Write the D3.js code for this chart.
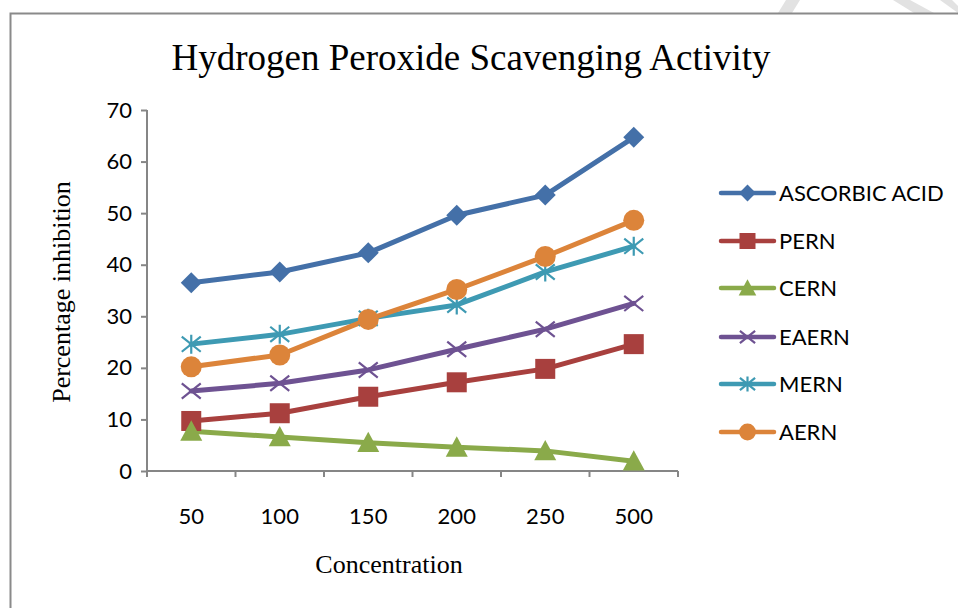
<!DOCTYPE html>
<html>
<head>
<meta charset="utf-8">
<script src="https://cdn.jsdelivr.net/npm/d3@7"></script>
<style>
  html, body { margin: 0; padding: 0; background: #fff; }
  svg { display: block; }
</style>
</head>
<body>
<svg id="chart" width="958" height="608"></svg>
<script>
const categories = ["50", "100", "150", "200", "250", "500"];
const seriesNames = ["ASCORBIC ACID", "PERN", "CERN", "EAERN", "MERN", "AERN"];
const ascorbicAcid = [36.5, 38.6, 42.3, 49.6, 53.5, 64.7];
const pern = [9.7, 11.2, 14.4, 17.2, 19.8, 24.6];
const cern = [7.7, 6.6, 5.5, 4.6, 3.9, 1.9];
const eaern = [15.5, 17.0, 19.6, 23.6, 27.5, 32.5];
const mern = [24.6, 26.5, 29.6, 32.2, 38.6, 43.6];
const aern = [20.2, 22.5, 29.4, 35.2, 41.6, 48.6];
const yTicks = [0, 10, 20, 30, 40, 50, 60, 70];
const title = "Hydrogen Peroxide Scavenging Activity";
const xTitle = "Concentration";
const yTitle = "Percentage inhibition";

const seriesValues = [ascorbicAcid, pern, cern, eaern, mern, aern];
const colors = ["#4470A8", "#A8403E", "#8AAA4A", "#6E5292", "#3E9AB3", "#DC843A"];
const markers = ["diamond", "square", "triangle", "x", "star", "circle"];

const svg = d3.select("#chart");
const serif = "'Liberation Serif', 'Times New Roman', serif";
const sans = "Lato, 'Open Sans', 'Liberation Sans', sans-serif";

// watermark stripes (decorative)
const wm = svg.append("g").attr("fill", "#e2e2e2");
wm.append("polygon").attr("points", "786,0 800,0 792,13 778,13");
wm.append("polygon").attr("points", "893,0 910,0 934,13 914,13");
wm.append("polygon").attr("points", "940,0 952,0 958,6 958,13");

// frame
svg.append("path").attr("d", "M10.5,608 V13.5 H958")
  .attr("fill", "none").attr("stroke", "#8a8a8a").attr("stroke-width", 2);

const x0 = 147, x1 = 678, yTop = 110, yBot = 471;
const x = d3.scaleBand().domain(categories).range([x0, x1]).paddingInner(0).paddingOuter(0);
const y = d3.scaleLinear().domain([0, 70]).range([yBot, yTop]);
const cx = c => x(c) + x.bandwidth() / 2;

// y axis
const yAxis = svg.append("g").attr("transform", `translate(${x0},0)`)
  .call(d3.axisLeft(y).tickValues(yTicks).tickSize(6).tickPadding(9).tickFormat(d3.format("d")));
yAxis.select(".domain").attr("stroke", "#868686").attr("stroke-width", 2).attr("d", `M0,${yTop}V${yBot}`);
yAxis.selectAll(".tick line").attr("stroke", "#868686").attr("stroke-width", 2);
yAxis.selectAll(".tick text").attr("font-family", sans).attr("font-size", 22).attr("fill", "#000");

// x axis
const xAxis = svg.append("g").attr("transform", `translate(0,${yBot})`);
xAxis.append("line").attr("x1", x0).attr("x2", x1).attr("y1", 0).attr("y2", 0)
  .attr("stroke", "#868686").attr("stroke-width", 2);
const bounds = categories.map(c => x(c)).concat([x(categories[categories.length - 1]) + x.bandwidth()]);
xAxis.selectAll("line.tk").data(bounds).join("line").attr("class", "tk")
  .attr("x1", d => d).attr("x2", d => d).attr("y1", 0).attr("y2", 6)
  .attr("stroke", "#868686").attr("stroke-width", 2);
xAxis.selectAll("text").data(categories).join("text")
  .attr("x", d => cx(d)).attr("y", 53).attr("text-anchor", "middle")
  .attr("font-family", sans).attr("font-size", 22).attr("fill", "#000").text(d => d);

// titles
svg.append("text").attr("x", 471).attr("y", 70).attr("text-anchor", "middle")
  .attr("font-family", serif).attr("font-size", 37).attr("fill", "#000").text(title);
svg.append("text").attr("x", 389).attr("y", 573).attr("text-anchor", "middle")
  .attr("font-family", serif).attr("font-size", 26).attr("fill", "#000").text(xTitle);
svg.append("text").attr("transform", "translate(70,292) rotate(-90)").attr("text-anchor", "middle")
  .attr("font-family", serif).attr("font-size", 26).attr("fill", "#000").text(yTitle);

function drawMarker(g, type, color, s) {
  if (type === "diamond") {
    g.append("path").attr("d", `M0,${-s}L${s},0L0,${s}L${-s},0Z`).attr("fill", color);
  } else if (type === "square") {
    g.append("rect").attr("x", -s).attr("y", -s).attr("width", 2 * s).attr("height", 2 * s).attr("fill", color);
  } else if (type === "triangle") {
    g.append("path").attr("d", `M0,${-s}L${s},${s * 0.85}L${-s},${s * 0.85}Z`).attr("fill", color);
  } else if (type === "circle") {
    g.append("circle").attr("r", s).attr("fill", color);
  } else if (type === "x") {
    g.append("path").attr("d", `M${-s},${-s * 0.8}L${s},${s * 0.8}M${-s},${s * 0.8}L${s},${-s * 0.8}`)
      .attr("stroke", color).attr("stroke-width", 2.2).attr("fill", "none");
  } else if (type === "star") {
    g.append("path").attr("d", `M${-s},${-s * 0.8}L${s},${s * 0.8}M${-s},${s * 0.8}L${s},${-s * 0.8}M0,${-s}L0,${s}`)
      .attr("stroke", color).attr("stroke-width", 2.2).attr("fill", "none");
  }
}

const line = d3.line().x((d, i) => cx(categories[i])).y(d => y(d));
const plot = svg.append("g");
const markerSize = [10.5, 10, 11, 9.5, 9.5, 10.5];
seriesValues.forEach((vals, si) => {
  plot.append("path").datum(vals).attr("d", line)
    .attr("fill", "none").attr("stroke", colors[si]).attr("stroke-width", 5)
    .attr("stroke-linejoin", "round").attr("stroke-linecap", "round");
});
seriesValues.forEach((vals, si) => {
  vals.forEach((v, i) => {
    const g = plot.append("g").attr("transform", `translate(${cx(categories[i])},${y(v)})`);
    drawMarker(g, markers[si], colors[si], markerSize[si]);
  });
});

// legend
const legY = [193, 241, 288, 337, 384, 432];
const leg = svg.append("g");
seriesNames.forEach((name, si) => {
  const g = leg.append("g").attr("transform", `translate(0,${legY[si]})`);
  g.append("line").attr("x1", 721).attr("x2", 774).attr("y1", 0).attr("y2", 0)
    .attr("stroke", colors[si]).attr("stroke-width", 4.5).attr("stroke-linecap", "round");
  const mg = g.append("g").attr("transform", "translate(747.5,0)");
  drawMarker(mg, markers[si], colors[si], markerSize[si] * 0.8);
  g.append("text").attr("x", 779).attr("y", 8).attr("font-family", sans).attr("font-size", 22)
    .attr("fill", "#000").text(name);
});
</script>
</body>
</html>
